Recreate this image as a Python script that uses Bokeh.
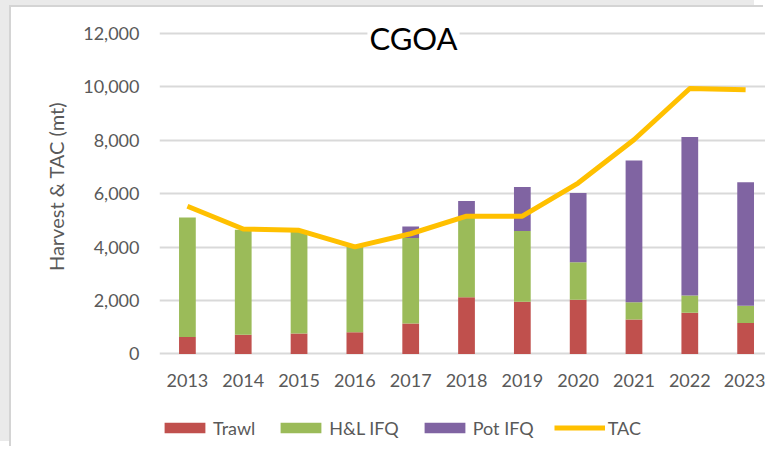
from bokeh.plotting import figure
from bokeh.layouts import column
from bokeh.models import Range1d, FixedTicker, NumeralTickFormatter, Legend, LegendItem, Label, ColumnDataSource
from bokeh.embed import file_html
from bokeh.resources import INLINE

years = [2013, 2014, 2015, 2016, 2017, 2018, 2019, 2020, 2021, 2022, 2023]
trawl = [630, 720, 760, 810, 1140, 2120, 1950, 2030, 1290, 1540, 1160]
hl_ifq = [4480, 3930, 3830, 3190, 3200, 2980, 2650, 1400, 640, 650, 640]
pot_ifq = [0, 0, 0, 0, 430, 630, 1650, 2600, 5310, 5930, 4630]
tac = [5530, 4680, 4630, 4010, 4500, 5160, 5160, 6400, 8020, 9940, 9890]
y_ticks = [0, 2000, 4000, 6000, 8000, 10000, 12000]
series = ["Trawl", "H&L IFQ", "Pot IFQ"]
colors = ["#C0504D", "#9BBB59", "#8064A2"]
tac_color = "#FFC000"

FONT = "Lato"
GREY = "#595959"

src = ColumnDataSource(dict(year=years, Trawl=trawl, HL=hl_ifq, Pot=pot_ifq, tac=tac))

chart = figure(width=754, height=400, output_backend="svg", toolbar_location=None,
               x_range=Range1d(2012.5, 2023.356), y_range=Range1d(-60, 12600),
               min_border_left=148, min_border_right=0, min_border_top=10, min_border_bottom=52)
chart.outline_line_color = None
chart.background_fill_color = "white"
chart.border_fill_color = "white"

chart.vbar_stack(["Trawl", "HL", "Pot"], x="year", width=0.3, source=src,
                 color=colors, line_color=None)
chart.line("year", "tac", source=src, line_color=tac_color, line_width=5, line_join="round")

# axes
chart.xaxis.ticker = FixedTicker(ticks=years)
chart.yaxis.ticker = FixedTicker(ticks=y_ticks)
chart.yaxis.formatter = NumeralTickFormatter(format="0,0")
for ax in (chart.xaxis[0], chart.yaxis[0]):
    ax.axis_line_color = None
    ax.major_tick_line_color = None
    ax.minor_tick_line_color = None
    ax.major_label_text_font = FONT
    ax.major_label_text_font_size = "18px"
    ax.major_label_text_color = GREY
chart.yaxis.major_label_standoff = 14
chart.xaxis.major_label_standoff = 12
chart.yaxis.axis_label = "Harvest & TAC (mt)"
chart.yaxis.axis_label_text_font = FONT
chart.yaxis.axis_label_text_font_size = "20px"
chart.yaxis.axis_label_text_font_style = "normal"
chart.yaxis.axis_label_text_color = GREY
chart.yaxis.axis_label_standoff = 12

chart.xgrid.grid_line_color = None
chart.ygrid.grid_line_color = "#D9D9D9"
chart.ygrid.grid_line_width = 2

title = Label(x=2017.05, y=11850, text="CGOA", text_font=FONT, text_font_size="31px",
              text_color="black", text_align="center", text_baseline="middle",
              background_fill_color="white", padding=2)
chart.add_layout(title)

# legend strip below the chart (same series, plotted outside its visible range)
leg = figure(width=754, height=41, output_backend="svg", toolbar_location=None,
             x_axis_type=None, y_axis_type=None,
             min_border_left=130, min_border_right=0, min_border_top=0, min_border_bottom=0,
             x_range=Range1d(0, 1), y_range=Range1d(0, 1))
leg.grid.grid_line_color = None
leg.outline_line_color = None
leg.border_fill_color = "white"
swatches = leg.vbar_stack(["Trawl", "HL", "Pot"], x="year", width=0.3, source=src,
                          color=colors, line_color=None)
tac_swatch = leg.line("year", "tac", source=src, line_color=tac_color, line_width=5)
items = [LegendItem(label=s, renderers=[r]) for s, r in zip(series, swatches)]
items.append(LegendItem(label="TAC", renderers=[tac_swatch]))
legend = Legend(items=items, orientation="horizontal", location="center_left",
                glyph_width=51, glyph_height=13, label_standoff=3, spacing=20,
                padding=0, margin=0, border_line_color=None, background_fill_alpha=0,
                label_text_font=FONT, label_text_font_size="18px", label_text_color=GREY)
leg.add_layout(legend)

p = column(chart, leg, spacing=0)
p.styles = {"margin-left": "11px", "margin-top": "7px",
            "box-shadow": "-2px -2px 0 0 #D4D4D4, -11px -7px 0 0 #EAEAEA"}

open("out.html", "w").write(file_html(p, INLINE))
